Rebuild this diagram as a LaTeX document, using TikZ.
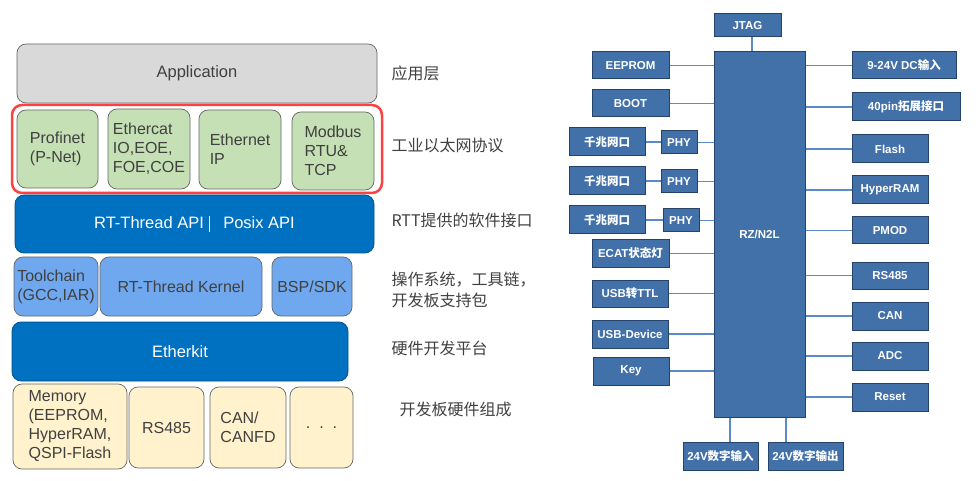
\documentclass[tikz,border=0pt]{standalone}
\usepackage{fontspec}
\setmainfont{Liberation Sans}
\newfontfamily\cjk{Noto Sans CJK SC}
\begin{document}
\definecolor{appg}{HTML}{D9D9D9}
\definecolor{grn}{HTML}{C5E0B4}
\definecolor{dblue}{HTML}{0070C0}
\definecolor{lblue}{HTML}{6FA8EF}
\definecolor{yel}{HTML}{FFF2CC}
\definecolor{rb}{HTML}{4270A9}
\definecolor{rbd}{HTML}{25426A}
\definecolor{ln}{HTML}{5B8BC6}
\definecolor{lab}{HTML}{404040}
\newcommand{\bx}[7]{\node[#6, minimum width={#4-#2}, minimum height={#5-#3}] (#1) at ({(#2+#4)/2},{(#3+#5)/2}) {#7};}
\newcommand{\zh}[1]{{\cjk\bfseries #1}}
\begin{tikzpicture}[x=1pt,y=-1pt,
  lay/.style={draw=gray!80!black, rounded corners=9pt, inner sep=0pt, line width=0.7pt, font=\fontsize{16.5}{19}\selectfont},
  app/.style={lay, fill=appg, text=lab},
  gr/.style={lay, fill=grn, text=lab, align=left, font=\fontsize{16}{19}\selectfont},
  db/.style={lay, fill=dblue, draw=dblue!70!black, text=white},
  lb/.style={lay, fill=lblue, text=lab, align=left, font=\fontsize{16}{19}\selectfont},
  yl/.style={lay, fill=yel, text=lab, align=left, font=\fontsize{16}{19}\selectfont},
  side/.style={anchor=west, text=lab, font=\cjk\fontsize{16}{21}\selectfont, align=left},
  rbx/.style={draw=rbd, fill=rb, line width=1pt, text=white, inner sep=0pt, font=\bfseries\fontsize{11.5}{13}\selectfont},
  cn/.style={draw=ln, line width=1.2pt}]
\useasboundingbox (0,0) rectangle (980,481);
% left stack
\bx{app}{17}{44}{377}{103}{app}{Application}
\draw[red!75, line width=2.5pt, rounded corners=10pt] (12,105) rectangle (382,193);
\bx{prof}{17}{110}{98}{188}{gr}{Profinet\\(P-Net)}
\bx{ecat}{108}{109}{190}{189}{gr}{Ethercat\\IO,EOE,\\FOE,COE}
\bx{eip}{199}{110}{281}{189}{gr}{Ethernet\\IP}
\bx{modb}{292}{112}{374}{190}{gr}{Modbus\\RTU\&\\TCP}
\bx{api}{15}{195}{374}{253}{db}{RT-Thread API\,\,\raisebox{-3pt}{\rule{1pt}{16pt}}\,\,\, Posix API}
\bx{tool}{14}{257}{98}{316}{lb}{Toolchain\\(GCC,IAR)}
\bx{kern}{100}{257}{262}{316}{lb}{RT-Thread Kernel}
\bx{bsp}{272}{257}{352}{316}{lb}{BSP/SDK}
\bx{ekit}{12}{322}{348}{381}{db}{Etherkit}
\bx{mem}{13}{384}{127}{469}{yl}{Memory\\(EEPROM,\\HyperRAM,\\QSPI-Flash}
\bx{rs}{129}{387}{204}{468}{yl}{RS485}
\bx{can}{210}{387}{286}{468}{yl}{CAN/\\CANFD}
\bx{dots}{290}{387}{353}{468}{yl}{.\ \ .\ \ .}
\node[side] (l1) at (388,73) {应用层};
\node[side] (l2) at (388,145) {工业以太网协议};
\node[side] (l3) at (388,220) {RTT提供的软件接口};
\node[side] (l4) at (388,290) {操作系统，工具链，\\开发板支持包};
\node[side] (l5) at (388,348) {硬件开发平台};
\node[side] (l6) at (396,409) {开发板硬件组成};
% right diagram
\bx{rz}{714}{52}{805}{417}{rbx}{RZ/N2L}
\bx{jtag}{714}{14}{781}{37}{rbx}{JTAG}
\bx{eep}{592}{52}{669}{79}{rbx}{EEPROM}
\bx{boot}{592}{90}{669}{117}{rbx}{BOOT}
\bx{g1}{569}{128}{645}{156}{rbx}{\zh{千兆网口}}
\bx{p1}{661}{131}{697}{154}{rbx}{PHY}
\bx{g2}{569}{167}{645}{195}{rbx}{\zh{千兆网口}}
\bx{p2}{661}{170}{697}{193}{rbx}{PHY}
\bx{g3}{569}{206}{645}{234}{rbx}{\zh{千兆网口}}
\bx{p3}{663}{209}{699}{232}{rbx}{PHY}
\bx{ecl}{592}{240}{669}{267}{rbx}{ECAT\zh{状态灯}}
\bx{ttl}{592}{280}{668}{307}{rbx}{USB\zh{转}TTL}
\bx{usbd}{592}{320}{668}{348}{rbx}{USB-Device}
\bx{key}{593}{357}{669}{385}{rbx}{Key}
\bx{dc}{852}{52}{956}{79}{rbx}{9-24V DC\zh{输入}}
\bx{pin}{852}{93}{960}{121}{rbx}{40pin\zh{拓展接口}}
\bx{fl}{852}{135}{928}{163}{rbx}{Flash}
\bx{hr}{852}{176}{928}{204}{rbx}{HyperRAM}
\bx{pm}{852}{217}{928}{244}{rbx}{PMOD}
\bx{r485}{852}{262}{928}{289}{rbx}{RS485}
\bx{rcan}{852}{302}{928}{330}{rbx}{CAN}
\bx{adc}{852}{342}{928}{370}{rbx}{ADC}
\bx{rst}{852}{383}{928}{411}{rbx}{Reset}
\bx{din}{683}{442}{758}{470}{rbx}{24V\zh{数字输入}}
\bx{dout}{768}{442}{843}{470}{rbx}{24V\zh{数字输出}}
\draw[cn] (jtag.south -| 752,0) -- (rz.north -| 752,0);
\foreach \n in {eep,boot,p1,p2,p3,ecl,ttl,usbd,key} \draw[cn] (\n.east) -- (\n.east -| rz.west);
\foreach \g/\p in {g1/p1,g2/p2,g3/p3} \draw[cn] (\g.east) -- (\g.east -| \p.west);
\foreach \n in {dc,pin,fl,hr,pm,r485,rcan,adc,rst} \draw[cn] (\n.west) -- (\n.west -| rz.east);
\draw[cn] (rz.south -| 730,0) -- (din.north -| 730,0);
\draw[cn] (rz.south -| 786,0) -- (dout.north -| 786,0);
\end{tikzpicture}
\end{document}
